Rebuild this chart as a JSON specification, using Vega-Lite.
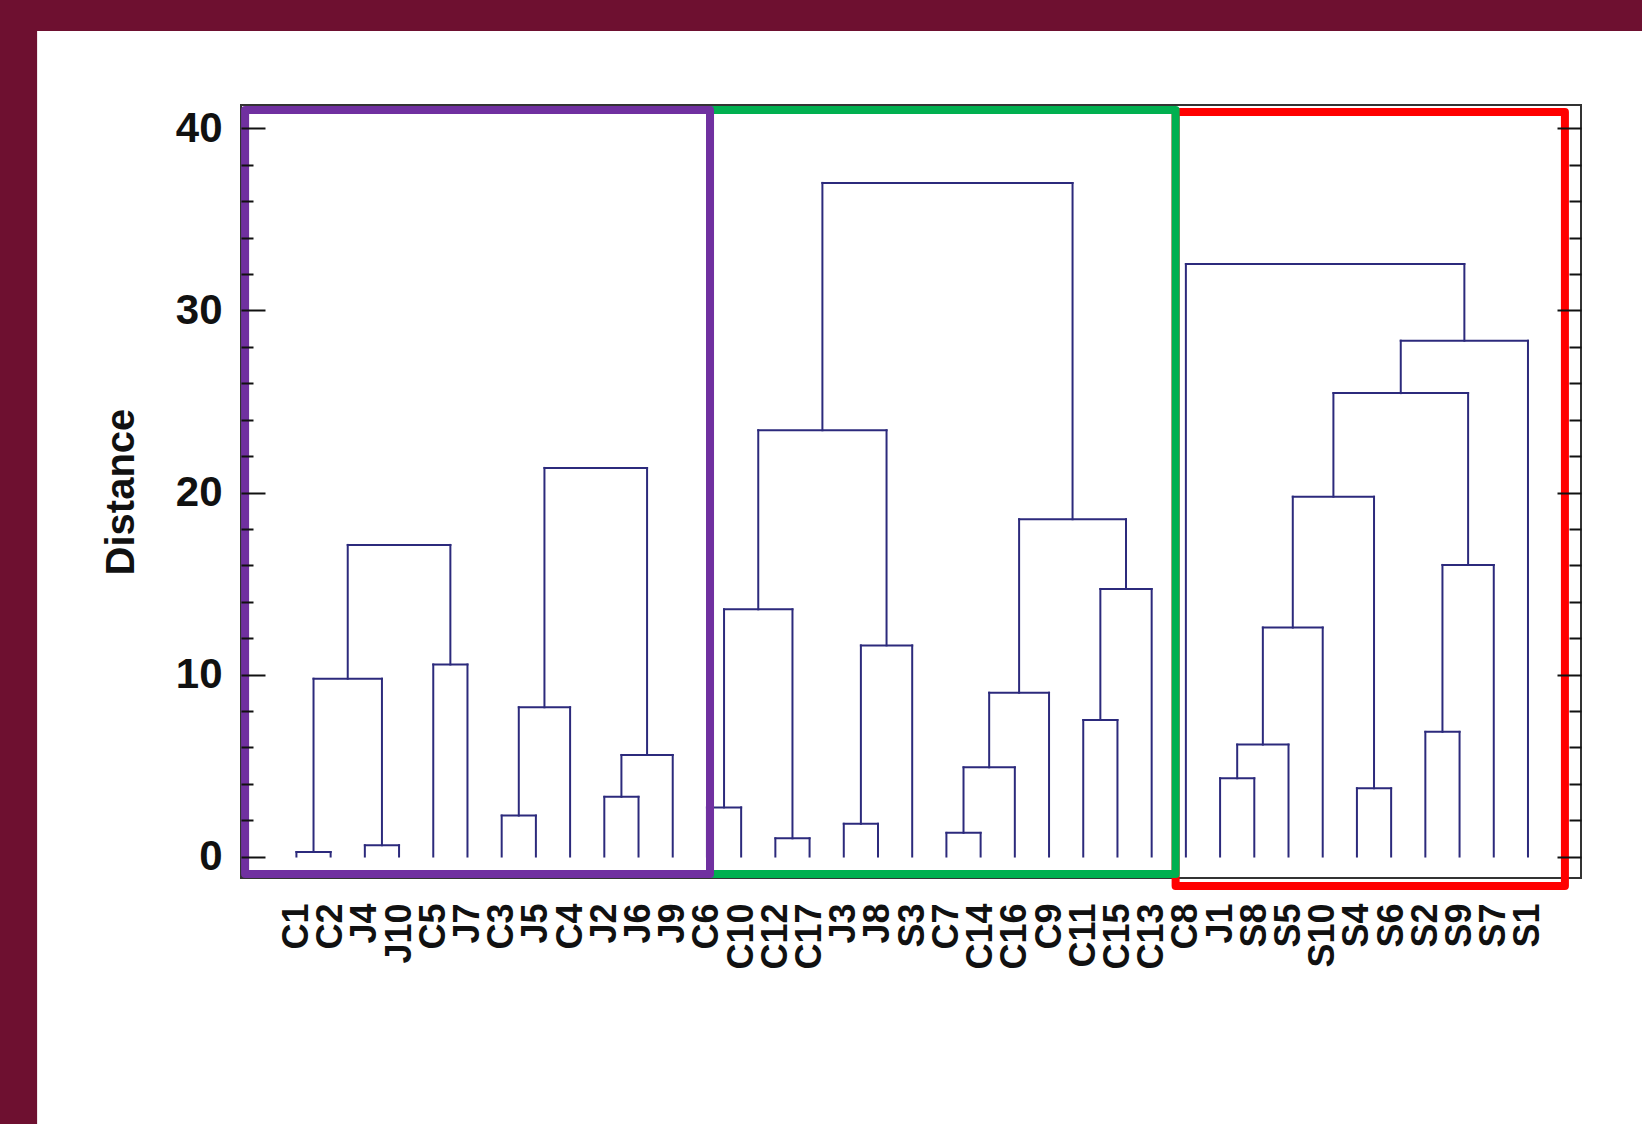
{
  "$schema": "https://vega.github.io/schema/vega-lite/v6.json",
  "width": 1340,
  "height": 773,
  "autosize": "none",
  "padding": {"left": 241, "top": 105, "right": 61, "bottom": 246},
  "background": "#6e1030",
  "config": {"view": {"stroke": null}},
  "datasets": {
    "merges": [
      {"xl": 0, "xr": 1, "yl": 0, "yr": 0, "h": 0.25},
      {"xl": 2, "xr": 3, "yl": 0, "yr": 0, "h": 0.62},
      {"xl": 0.5, "xr": 2.5, "yl": 0.25, "yr": 0.62, "h": 9.77},
      {"xl": 4, "xr": 5, "yl": 0, "yr": 0, "h": 10.55},
      {"xl": 1.5, "xr": 4.5, "yl": 9.77, "yr": 10.55, "h": 17.12},
      {"xl": 6, "xr": 7, "yl": 0, "yr": 0, "h": 2.25},
      {"xl": 6.5, "xr": 8, "yl": 2.25, "yr": 0, "h": 8.2},
      {"xl": 9, "xr": 10, "yl": 0, "yr": 0, "h": 3.28},
      {"xl": 9.5, "xr": 11, "yl": 3.28, "yr": 0, "h": 5.58},
      {"xl": 7.25, "xr": 10.25, "yl": 8.2, "yr": 5.58, "h": 21.35},
      {"xl": 12, "xr": 13, "yl": 0, "yr": 0, "h": 2.7},
      {"xl": 14, "xr": 15, "yl": 0, "yr": 0, "h": 1.0},
      {"xl": 12.5, "xr": 14.5, "yl": 2.7, "yr": 1.0, "h": 13.58},
      {"xl": 16, "xr": 17, "yl": 0, "yr": 0, "h": 1.8},
      {"xl": 16.5, "xr": 18, "yl": 1.8, "yr": 0, "h": 11.6},
      {"xl": 13.5, "xr": 17.25, "yl": 13.58, "yr": 11.6, "h": 23.42},
      {"xl": 19, "xr": 20, "yl": 0, "yr": 0, "h": 1.3},
      {"xl": 19.5, "xr": 21, "yl": 1.3, "yr": 0, "h": 4.9},
      {"xl": 20.25, "xr": 22, "yl": 4.9, "yr": 0, "h": 9.0},
      {"xl": 23, "xr": 24, "yl": 0, "yr": 0, "h": 7.5},
      {"xl": 23.5, "xr": 25, "yl": 7.5, "yr": 0, "h": 14.7},
      {"xl": 21.125, "xr": 24.25, "yl": 9.0, "yr": 14.7, "h": 18.53},
      {"xl": 15.375, "xr": 22.6875, "yl": 23.42, "yr": 18.53, "h": 37.01},
      {"xl": 27, "xr": 28, "yl": 0, "yr": 0, "h": 4.3},
      {"xl": 27.5, "xr": 29, "yl": 4.3, "yr": 0, "h": 6.15},
      {"xl": 28.25, "xr": 30, "yl": 6.15, "yr": 0, "h": 12.58},
      {"xl": 31, "xr": 32, "yl": 0, "yr": 0, "h": 3.75},
      {"xl": 29.125, "xr": 31.5, "yl": 12.58, "yr": 3.75, "h": 19.77},
      {"xl": 33, "xr": 34, "yl": 0, "yr": 0, "h": 6.85},
      {"xl": 33.5, "xr": 35, "yl": 6.85, "yr": 0, "h": 16.02},
      {"xl": 30.3125, "xr": 34.25, "yl": 19.77, "yr": 16.02, "h": 25.46},
      {"xl": 32.28125, "xr": 36, "yl": 25.46, "yr": 0, "h": 28.34},
      {"xl": 26, "xr": 34.140625, "yl": 0, "yr": 28.34, "h": 32.55}
    ],
    "clusters": [
      {"cluster": "red", "x0": 25.7, "x1": 37.08, "y0": -1.62, "y1": 40.9},
      {"cluster": "green", "x0": 12.09, "x1": 25.7, "y0": -0.96, "y1": 41.02},
      {"cluster": "purple", "x0": -1.5, "x1": 12.09, "y0": -0.96, "y1": 41.02}
    ],
    "single": [{}]
  },
  "layer": [
    {
      "data": {"name": "single"},
      "mark": {"type": "rect", "fill": "#ffffff", "strokeWidth": 0},
      "encoding": {
        "x": {"datum": -7.58, "type": "quantitative", "scale": {"domain": [-1.62, 37.55], "nice": false, "zero": false}, "axis": null},
        "x2": {"datum": 40},
        "y": {"datum": -16, "type": "quantitative", "scale": {"domain": [-1.18, 41.29], "nice": false, "zero": false}, "axis": null},
        "y2": {"datum": 45.36}
      }
    },
    {
      "data": {"name": "single"},
      "mark": {"type": "rect", "fillOpacity": 0, "stroke": "#333333", "strokeWidth": 2},
      "encoding": {
        "x": {"datum": -1.62, "type": "quantitative", "scale": {"domain": [-1.62, 37.55], "nice": false, "zero": false}, "axis": null},
        "x2": {"datum": 37.55},
        "y": {"datum": -1.18, "type": "quantitative", "scale": {"domain": [-1.18, 41.29], "nice": false, "zero": false}, "axis": null},
        "y2": {"datum": 41.29}
      }
    },
    {
      "data": {"name": "merges"},
      "mark": {"type": "rule", "color": "#2c2a7c", "strokeWidth": 2, "strokeCap": "square"},
      "encoding": {
        "x": {
          "field": "xl", "type": "quantitative",
          "scale": {"domain": [-1.62, 37.55], "nice": false, "zero": false},
          "axis": {
            "orient": "bottom",
            "values": [0,1,2,3,4,5,6,7,8,9,10,11,12,13,14,15,16,17,18,19,20,21,22,23,24,25,26,27,28,29,30,31,32,33,34,35,36],
            "labelExpr": "['C1','C2','J4','J10','C5','J7','C3','J5','C4','J2','J6','J9','C6','C10','C12','C17','J3','J8','S3','C7','C14','C16','C9','C11','C15','C13','C8','J1','S8','S5','S10','S4','S6','S2','S9','S7','S1'][datum.value]",
            "labelAngle": 270,
            "labelPadding": 25,
            "labelFont": "Liberation Sans",
            "labelFontSize": 36,
            "labelFontWeight": "bold",
            "labelColor": "#111111",
            "labelOverlap": false,
            "labelFlush": false,
            "ticks": false,
            "domain": false,
            "grid": false,
            "title": null,
            "zindex": 1
          }
        },
        "x2": {"field": "xr"},
        "y": {
          "field": "h", "type": "quantitative",
          "scale": {"domain": [-1.18, 41.29], "nice": false, "zero": false},
          "axis": {
            "orient": "left",
            "values": [0,2,4,6,8,10,12,14,16,18,20,22,24,26,28,30,32,34,36,38,40],
            "tickSize": {"condition": {"test": "datum.value % 10 === 0", "value": -24}, "value": -12},
            "tickWidth": 2,
            "tickColor": "#111111",
            "labelExpr": "datum.value % 10 === 0 ? datum.label : ''",
            "labelPadding": 43,
            "labelFont": "Liberation Sans",
            "labelFontSize": 42,
            "labelFontWeight": "bold",
            "labelColor": "#111111",
            "labelFlush": false,
            "labelOverlap": false,
            "domain": false,
            "grid": false,
            "title": "Distance",
            "titleFont": "Liberation Sans",
            "titleFontSize": 40,
            "titleFontWeight": "bold",
            "titleColor": "#111111",
            "titlePadding": 34,
            "zindex": 1
          }
        }
      }
    },
    {
      "data": {"name": "merges"},
      "mark": {"type": "rule", "color": "#2c2a7c", "strokeWidth": 2, "strokeCap": "square"},
      "encoding": {
        "x": {"field": "xl", "type": "quantitative", "scale": {"domain": [-1.62, 37.55], "nice": false, "zero": false}, "axis": null},
        "y": {
          "field": "yl", "type": "quantitative",
          "scale": {"domain": [-1.18, 41.29], "nice": false, "zero": false},
          "axis": {
            "orient": "right",
            "values": [0,2,4,6,8,10,12,14,16,18,20,22,24,26,28,30,32,34,36,38,40],
            "tickSize": {"condition": {"test": "datum.value % 10 === 0", "value": -24}, "value": -12},
            "tickWidth": 2,
            "tickColor": "#111111",
            "labels": false,
            "domain": false,
            "grid": false,
            "title": null,
            "zindex": 1
          }
        },
        "y2": {"field": "h"}
      }
    },
    {
      "data": {"name": "merges"},
      "mark": {"type": "rule", "color": "#2c2a7c", "strokeWidth": 2, "strokeCap": "square"},
      "encoding": {
        "x": {"field": "xr", "type": "quantitative", "scale": {"domain": [-1.62, 37.55], "nice": false, "zero": false}, "axis": null},
        "y": {"field": "yr", "type": "quantitative", "scale": {"domain": [-1.18, 41.29], "nice": false, "zero": false}, "axis": null},
        "y2": {"field": "h"}
      }
    },
    {
      "data": {"name": "clusters"},
      "mark": {"type": "rect", "fillOpacity": 0, "strokeWidth": 8, "strokeJoin": "round"},
      "encoding": {
        "x": {"field": "x0", "type": "quantitative", "scale": {"domain": [-1.62, 37.55], "nice": false, "zero": false}, "axis": null},
        "x2": {"field": "x1"},
        "y": {"field": "y0", "type": "quantitative", "scale": {"domain": [-1.18, 41.29], "nice": false, "zero": false}, "axis": null},
        "y2": {"field": "y1"},
        "stroke": {"field": "cluster", "type": "nominal", "scale": {"domain": ["purple", "green", "red"], "range": ["#7030a0", "#00b050", "#ff0000"]}, "legend": null}
      }
    }
  ],
  "resolve": {"axis": {"x": "independent", "y": "independent"}}
}
